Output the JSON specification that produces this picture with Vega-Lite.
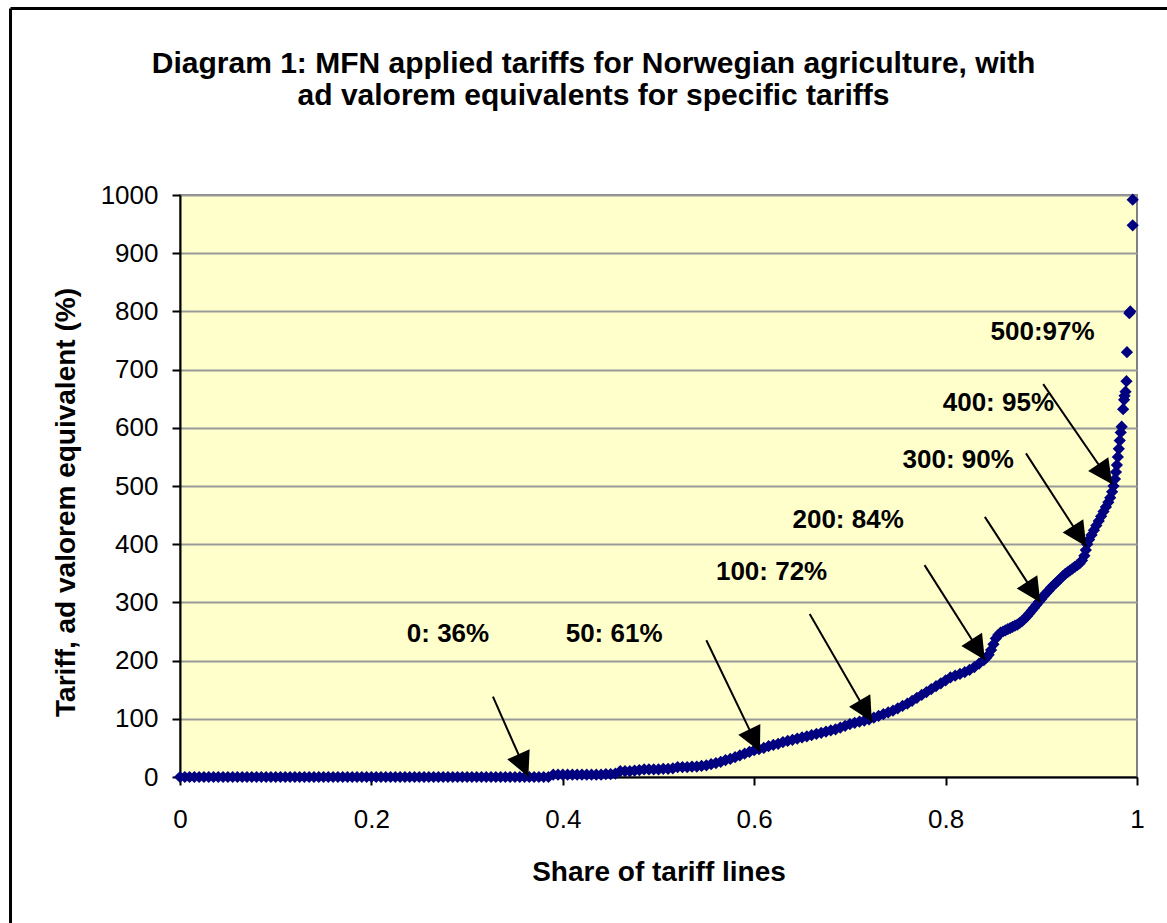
{
  "$schema": "https://vega.github.io/schema/vega-lite/v6.json",
  "width": 957,
  "height": 582,
  "autosize": {"type": "none"},
  "padding": {"left": 180, "top": 195, "right": 30, "bottom": 146},
  "background": "white",
  "title": {
    "text": ["Diagram 1: MFN applied tariffs for Norwegian agriculture, with", "ad valorem equivalents for specific tariffs"],
    "font": "Liberation Sans",
    "fontSize": 30,
    "fontWeight": "bold",
    "color": "black",
    "anchor": "middle",
    "dx": -65,
    "offset": -104,
    "lineHeight": 32
  },
  "config": {
    "view": {"fill": "#FFFFCC", "stroke": "#808080", "strokeWidth": 2},
    "font": "Liberation Sans"
  },
  "datasets": {
    "frame": [
      {"x": -0.1771, "y": -270, "x2": -0.1771, "y2": 1320.5},
      {"x": -0.1771, "y": 1320.5, "x2": 1.05, "y2": 1320.5}
    ],
    "arrows": [
      {"x": 0.327, "y": 138, "x2": 0.364, "y2": 0.5},
      {"x": 0.550, "y": 235, "x2": 0.606, "y2": 44},
      {"x": 0.658, "y": 280, "x2": 0.723, "y2": 95},
      {"x": 0.778, "y": 364, "x2": 0.841, "y2": 201},
      {"x": 0.841, "y": 447, "x2": 0.899, "y2": 300},
      {"x": 0.884, "y": 556, "x2": 0.947, "y2": 396},
      {"x": 0.902, "y": 675, "x2": 0.974, "y2": 503}
    ],
    "labels": [
      {"label": "0: 36%", "x": 0.237, "y": 246},
      {"label": "50: 61%", "x": 0.403, "y": 246},
      {"label": "100: 72%", "x": 0.560, "y": 352},
      {"label": "200: 84%", "x": 0.640, "y": 442},
      {"label": "300: 90%", "x": 0.755, "y": 545},
      {"label": "400: 95%", "x": 0.797, "y": 643},
      {"label": "500:97%", "x": 0.847, "y": 765}
    ],
    "tariffs": [
      {"s":0.000,"t":0},{"s":0.005,"t":0},{"s":0.010,"t":0},{"s":0.015,"t":0},{"s":0.020,"t":0},{"s":0.025,"t":0},{"s":0.030,"t":0},{"s":0.035,"t":0},{"s":0.040,"t":0},{"s":0.045,"t":0},
      {"s":0.050,"t":0},{"s":0.055,"t":0},{"s":0.060,"t":0},{"s":0.065,"t":0},{"s":0.070,"t":0},{"s":0.075,"t":0},{"s":0.080,"t":0},{"s":0.085,"t":0},{"s":0.090,"t":0},{"s":0.095,"t":0},
      {"s":0.100,"t":0},{"s":0.105,"t":0},{"s":0.110,"t":0},{"s":0.115,"t":0},{"s":0.120,"t":0},{"s":0.125,"t":0},{"s":0.130,"t":0},{"s":0.135,"t":0},{"s":0.140,"t":0},{"s":0.145,"t":0},
      {"s":0.150,"t":0},{"s":0.155,"t":0},{"s":0.160,"t":0},{"s":0.165,"t":0},{"s":0.170,"t":0},{"s":0.175,"t":0},{"s":0.180,"t":0},{"s":0.185,"t":0},{"s":0.190,"t":0},{"s":0.195,"t":0},
      {"s":0.200,"t":0},{"s":0.205,"t":0},{"s":0.210,"t":0},{"s":0.215,"t":0},{"s":0.220,"t":0},{"s":0.225,"t":0},{"s":0.230,"t":0},{"s":0.235,"t":0},{"s":0.240,"t":0},{"s":0.245,"t":0},
      {"s":0.250,"t":0},{"s":0.255,"t":0},{"s":0.260,"t":0},{"s":0.265,"t":0},{"s":0.270,"t":0},{"s":0.275,"t":0},{"s":0.280,"t":0},{"s":0.285,"t":0},{"s":0.290,"t":0},{"s":0.295,"t":0},
      {"s":0.300,"t":0},{"s":0.305,"t":0},{"s":0.310,"t":0},{"s":0.315,"t":0},{"s":0.320,"t":0},{"s":0.325,"t":0},{"s":0.330,"t":0},{"s":0.335,"t":0},{"s":0.340,"t":0},{"s":0.345,"t":0},
      {"s":0.350,"t":0},{"s":0.355,"t":0},{"s":0.360,"t":0},{"s":0.365,"t":0},{"s":0.370,"t":0},{"s":0.375,"t":0},{"s":0.380,"t":0},{"s":0.385,"t":0},
      {"s":0.390,"t":4},{"s":0.395,"t":4},{"s":0.400,"t":4},{"s":0.405,"t":4},{"s":0.410,"t":4},{"s":0.415,"t":4},{"s":0.420,"t":4},{"s":0.425,"t":4},{"s":0.430,"t":4},{"s":0.435,"t":4},
      {"s":0.440,"t":4},{"s":0.445,"t":5},{"s":0.450,"t":5},{"s":0.455,"t":6},{"s":0.460,"t":10},{"s":0.465,"t":10},{"s":0.470,"t":10},{"s":0.475,"t":11},{"s":0.480,"t":12},{"s":0.485,"t":13},
      {"s":0.490,"t":13},{"s":0.495,"t":13},{"s":0.500,"t":13},{"s":0.505,"t":14},{"s":0.510,"t":14},{"s":0.515,"t":15},{"s":0.520,"t":17},{"s":0.525,"t":17},{"s":0.530,"t":17},{"s":0.535,"t":18},
      {"s":0.540,"t":18},{"s":0.545,"t":19},{"s":0.550,"t":20},{"s":0.555,"t":22},{"s":0.560,"t":24},{"s":0.565,"t":26},{"s":0.570,"t":29},{"s":0.575,"t":31},{"s":0.580,"t":34},{"s":0.585,"t":37},
      {"s":0.590,"t":40},{"s":0.595,"t":43},{"s":0.600,"t":46},{"s":0.605,"t":48},{"s":0.610,"t":50},{"s":0.615,"t":53},{"s":0.620,"t":55},{"s":0.625,"t":57},{"s":0.630,"t":60},{"s":0.635,"t":62},
      {"s":0.640,"t":64},{"s":0.645,"t":66},{"s":0.650,"t":68},{"s":0.655,"t":70},{"s":0.660,"t":72},{"s":0.665,"t":74},{"s":0.670,"t":76},{"s":0.675,"t":78},{"s":0.680,"t":80},{"s":0.685,"t":82},
      {"s":0.690,"t":85},{"s":0.695,"t":88},{"s":0.700,"t":91},{"s":0.705,"t":93},{"s":0.710,"t":95},{"s":0.715,"t":97},{"s":0.720,"t":99},{"s":0.725,"t":102},{"s":0.730,"t":105},{"s":0.735,"t":108},
      {"s":0.740,"t":111},{"s":0.745,"t":114},{"s":0.750,"t":118},{"s":0.755,"t":122},{"s":0.760,"t":126},{"s":0.765,"t":131},{"s":0.770,"t":136},{"s":0.775,"t":141},{"s":0.780,"t":146},{"s":0.785,"t":151},
      {"s":0.790,"t":156},{"s":0.795,"t":161},{"s":0.800,"t":166},{"s":0.805,"t":171},{"s":0.810,"t":174},{"s":0.815,"t":177},{"s":0.820,"t":180},{"s":0.825,"t":184},{"s":0.830,"t":189},{"s":0.835,"t":195},
      {"s":0.840,"t":201},{"s":0.8425,"t":205},{"s":0.845,"t":210},{"s":0.8475,"t":218},{"s":0.850,"t":228},{"s":0.8525,"t":238},{"s":0.855,"t":244},{"s":0.8575,"t":248},{"s":0.860,"t":250},{"s":0.8625,"t":252},
      {"s":0.865,"t":254},{"s":0.8675,"t":256},{"s":0.870,"t":258},{"s":0.8725,"t":260},{"s":0.875,"t":262},{"s":0.8775,"t":265},{"s":0.880,"t":268},{"s":0.8825,"t":272},{"s":0.885,"t":276},{"s":0.8875,"t":281},
      {"s":0.890,"t":286},{"s":0.8925,"t":291},{"s":0.895,"t":296},{"s":0.8975,"t":301},{"s":0.900,"t":306},{"s":0.9025,"t":311},{"s":0.905,"t":316},{"s":0.9075,"t":320},{"s":0.910,"t":325},{"s":0.9125,"t":329},
      {"s":0.915,"t":333},{"s":0.9175,"t":337},{"s":0.920,"t":341},{"s":0.9225,"t":345},{"s":0.925,"t":349},{"s":0.9275,"t":352},{"s":0.930,"t":355},{"s":0.9325,"t":358},{"s":0.935,"t":361},{"s":0.9375,"t":364},
      {"s":0.940,"t":367},{"s":0.9425,"t":372},{"s":0.945,"t":380},{"s":0.9465,"t":390},{"s":0.948,"t":400},{"s":0.950,"t":408},{"s":0.9525,"t":416},{"s":0.955,"t":424},{"s":0.9575,"t":432},{"s":0.960,"t":440},
      {"s":0.9625,"t":448},{"s":0.965,"t":456},{"s":0.9675,"t":464},{"s":0.970,"t":472},{"s":0.972,"t":480},{"s":0.974,"t":490},{"s":0.9755,"t":500},{"s":0.977,"t":512},{"s":0.978,"t":524},{"s":0.979,"t":536},
      {"s":0.980,"t":550},{"s":0.981,"t":564},{"s":0.982,"t":578},{"s":0.983,"t":592},{"s":0.984,"t":602},{"s":0.9855,"t":632},{"s":0.9865,"t":648},{"s":0.987,"t":655},{"s":0.988,"t":662},{"s":0.989,"t":680},
      {"s":0.9895,"t":730},{"s":0.992,"t":797},{"s":0.993,"t":800},{"s":0.9955,"t":948},{"s":0.9955,"t":992}
    ]
  },
  "layer": [
    {
      "data": {"name": "tariffs"},
      "mark": {"type": "point", "shape": "diamond", "filled": true, "color": "#000080", "size": 150, "opacity": 1, "strokeWidth": 0},
      "encoding": {
        "x": {
          "field": "s", "type": "quantitative",
          "scale": {"domain": [0, 1], "nice": false, "zero": false},
          "axis": {
            "values": [0, 0.2, 0.4, 0.6, 0.8, 1], "format": "~g", "grid": false,
            "domainColor": "black", "domainWidth": 2, "tickColor": "black", "tickWidth": 2, "tickSize": 8,
            "labelFont": "Liberation Sans", "labelFontSize": 26, "labelColor": "black", "labelPadding": 21,
            "labelFlush": false, "labelOverlap": false,
            "title": "Share of tariff lines", "titleFont": "Liberation Sans", "titleFontSize": 28,
            "titleFontWeight": "bold", "titleColor": "black", "titlePadding": 26
          }
        },
        "y": {
          "field": "t", "type": "quantitative",
          "scale": {"domain": [0, 1000], "nice": false},
          "axis": {
            "values": [0, 100, 200, 300, 400, 500, 600, 700, 800, 900, 1000], "format": "d", "grid": true,
            "gridColor": "#999999", "gridWidth": 2,
            "domainColor": "black", "domainWidth": 2, "tickColor": "black", "tickWidth": 2, "tickSize": 8,
            "labelFont": "Liberation Sans", "labelFontSize": 26, "labelColor": "black", "labelPadding": 14,
            "labelOverlap": false, "labelFlush": false,
            "title": "Tariff, ad valorem equivalent (%)", "titleFont": "Liberation Sans", "titleFontSize": 28,
            "titleFontWeight": "bold", "titleColor": "black", "titlePadding": 20, "titleY": 307
          }
        }
      }
    },
    {
      "data": {"name": "frame"},
      "mark": {"type": "rule", "color": "black", "strokeWidth": 3, "clip": false},
      "encoding": {
        "x": {"field": "x", "type": "quantitative"},
        "y": {"field": "y", "type": "quantitative"},
        "x2": {"field": "x2"},
        "y2": {"field": "y2"}
      }
    },
    {
      "data": {"name": "arrows"},
      "mark": {"type": "rule", "color": "black", "strokeWidth": 2},
      "encoding": {
        "x": {"field": "x", "type": "quantitative"},
        "y": {"field": "y", "type": "quantitative"},
        "x2": {"field": "x2"},
        "y2": {"field": "y2"}
      }
    },
    {
      "data": {"name": "arrows"},
      "transform": [
        {"calculate": "atan2(-(datum.x2 - datum.x) * 957, -(datum.y2 - datum.y) * 0.582) * 180 / PI", "as": "ang"}
      ],
      "mark": {"type": "point", "shape": "M0,0L-0.5,-1L0.5,-1Z", "filled": true, "color": "black", "size": 2400, "opacity": 1, "strokeWidth": 0},
      "encoding": {
        "x": {"field": "x2", "type": "quantitative"},
        "y": {"field": "y2", "type": "quantitative"},
        "angle": {"field": "ang", "type": "quantitative", "scale": null}
      }
    },
    {
      "data": {"name": "labels"},
      "mark": {"type": "text", "align": "left", "baseline": "middle", "font": "Liberation Sans", "fontSize": 26, "fontWeight": "bold", "color": "black"},
      "encoding": {
        "x": {"field": "x", "type": "quantitative"},
        "y": {"field": "y", "type": "quantitative"},
        "text": {"field": "label"}
      }
    }
  ]
}
